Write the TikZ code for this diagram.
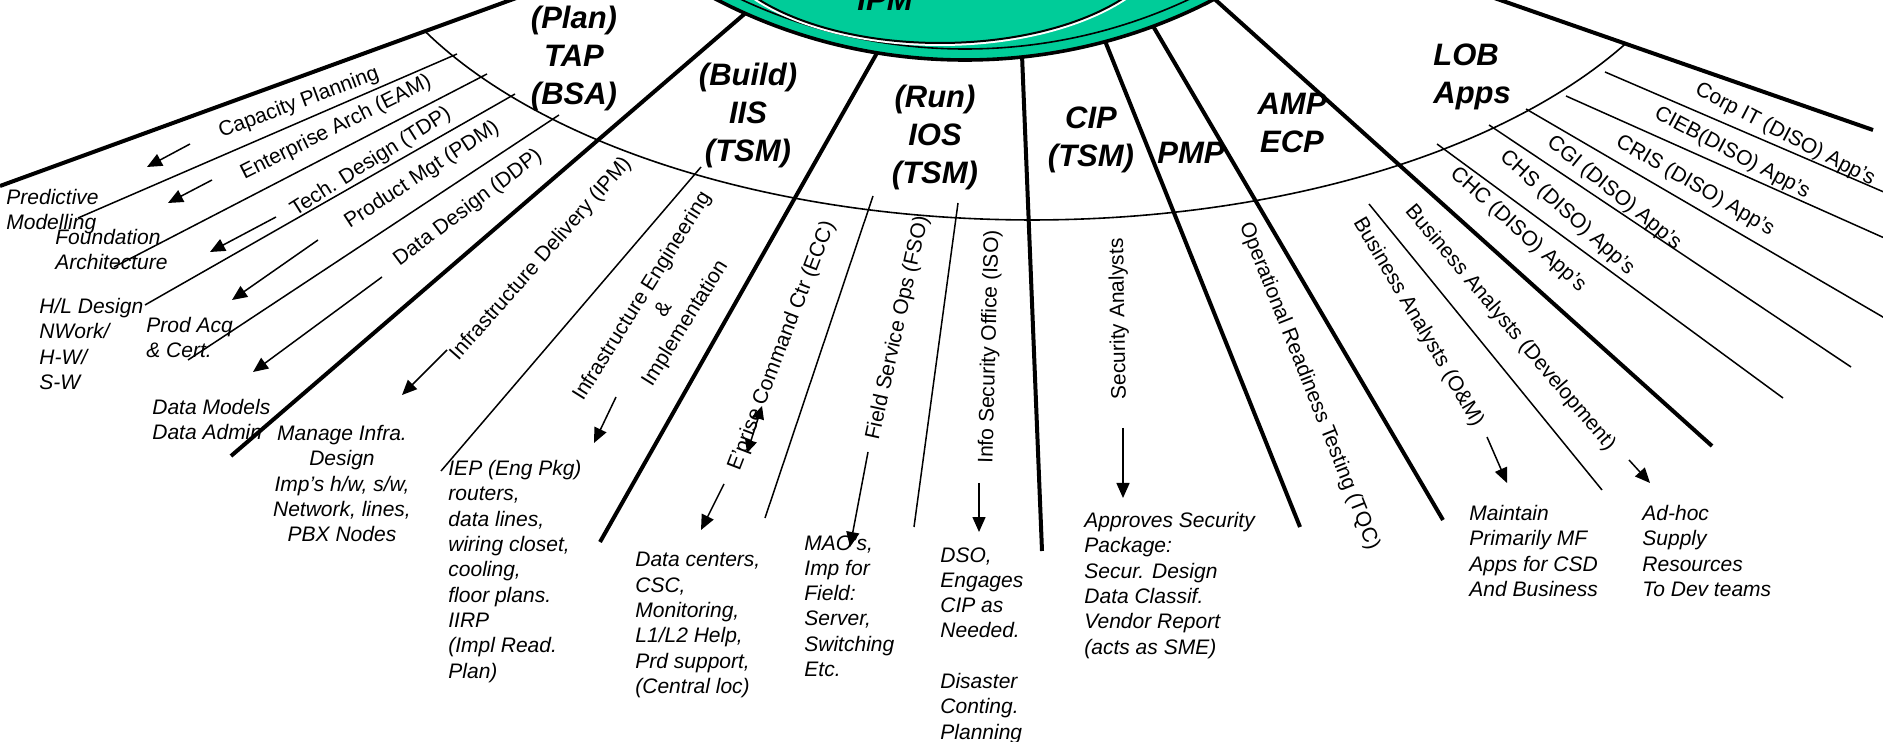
\documentclass[tikz,border=0pt]{standalone}
\usepackage{fontspec}
\setmainfont{Liberation Sans}
\usetikzlibrary{arrows.meta}
\definecolor{hubgreen}{RGB}{0,204,153}
\newcommand\fsmall{\fontsize{10.5pt}{12.65pt}\selectfont}
\newcommand\fbig{\fontsize{15.5pt}{19pt}\selectfont}

\begin{document}
\begin{tikzpicture}[x=0.5pt, y=-0.5pt,
  thickray/.style={line width=2pt},
  thinray/.style={line width=0.75pt},
  arcline/.style={line width=0.8pt},
  arr/.style={line width=0.75pt, -{Triangle[length=7.5pt,width=6.5pt]}},
  dblarr/.style={line width=0.75pt, {Triangle[length=6.5pt,width=6pt]}-{Triangle[length=6.5pt,width=6pt]}},
  raylabel/.style={font=\fsmall, inner sep=0pt},
  body/.style={font=\fsmall\itshape, align=left, anchor=north west, inner sep=0pt},
  head/.style={font=\fbig\bfseries\itshape, align=center, inner sep=0pt},
]
\useasboundingbox (0,0) rectangle (1883,742);
\fill[white] (0,0) rectangle (1883,742);
\clip (0,0) rectangle (1883,742);

% main spokes of the fan
\draw[thickray] (0,186) -- (530,-7);
\draw[thickray] (770,-8) -- (231,456);
\draw[thickray] (890,30) -- (600,542);
\draw[thickray] (1021,30) -- (1042,551);
\draw[thickray] (1099,26) -- (1300,527);
\draw[thickray] (1143,9) -- (1443,520);
\draw[thickray] (1190,-23) -- (1712,446);
\draw[thickray] (1480,-7) -- (1873,130);

% hub ring and centre ellipse
\draw[line width=1.8pt, fill=hubgreen] (965,-480) circle[radius=540];
\draw[line width=0.8pt] (965,-480) circle[radius=529];
\draw[white, line width=3pt] (940,-70) ellipse[x radius=230, y radius=113];
\draw[line width=1pt, fill=hubgreen] (940,-70) ellipse[x radius=230, y radius=113];
\node[head, anchor=base] (ipm) at (885,11) {IPM};

% inner ring separating groups from their functions
\draw[arcline] plot[domain=30:152, samples=120] ({1032+687*cos(\x)},{-135+355*sin(\x)});

% sub-dividers
\draw[thinray] (457,54) -- (78,218);
\draw[thinray] (487,74) -- (114,267);
\draw[thinray] (515,94) -- (145,305);
\draw[thinray] (559,115) -- (188,360);
\draw[thinray] (701,167) -- (441,471);
\draw[thinray] (873,196) -- (765,518);
\draw[thinray] (958,203) -- (914,527);
\draw[thinray] (1369,204) -- (1602,490);
\draw[thinray] (1437,144) -- (1783,398);
\draw[thinray] (1489,125) -- (1851,367);
\draw[thinray] (1526,109) -- (1900,327);
\draw[thinray] (1566,96) -- (1900,245);
\draw[thinray] (1605,72) -- (1900,199);

% group headings
\node[head] (tap) at (574,58) {(Plan)\\TAP\\(BSA)};
\node[head] (iis) at (748,115) {(Build)\\IIS\\(TSM)};
\node[head] (ios) at (935,137) {(Run)\\IOS\\(TSM)};
\node[head] (cip) at (1091,140) {CIP\\(TSM)};
\node[head] (pmp) at (1191,153) {PMP};
\node[head] (amp) at (1292,123) {AMP\\ECP};
\node[head, align=left, anchor=west] (lob) at (1433,77) {LOB\\Apps};

% function names along the spokes
\node[raylabel, rotate=20.6] (cap) at (299,103) {Capacity Planning};
\node[raylabel, rotate=26.6] (eam) at (336,128) {Enterprise Arch (EAM)};
\node[raylabel, rotate=32.3] (tdp) at (371,162) {Tech. Design (TDP)};
\node[raylabel, rotate=33.2] (pdm) at (422,175) {Product Mgt (PDM)};
\node[raylabel, rotate=37] (ddp) at (468,208) {Data Design (DDP)};
\node[raylabel, rotate=48.6] (ipmd) at (541,259) {Infrastructure Delivery (IPM)};
\node[raylabel, rotate=58, align=center] (iei) at (664,310) {Infrastructure Engineering\\\&\\Implementation};
\node[raylabel, rotate=69] (ecc) at (782,346) {E’prise Command Ctr (ECC)};
\node[raylabel, rotate=77.5] (fso) at (898,328) {Field Service Ops (FSO)};
\node[raylabel, rotate=88.5] (iso) at (990,347) {Info Security Office (ISO)};
\node[raylabel, rotate=91] (sec) at (1119,319) {Security Analysts};
\node[raylabel, rotate=-68.4] (tqc) at (1309,386) {Operational Readiness Testing (TQC)};
\node[raylabel, rotate=-59.6] (bao) at (1418,322) {Business Analysts (O\&M)};
\node[raylabel, rotate=-49.8] (bad) at (1510,328) {Business Analysts (Development)};
\node[raylabel, rotate=-42] (chc) at (1518,230) {CHC (DISO) App’s};
\node[raylabel, rotate=-42.3] (chs) at (1567,213) {CHS (DISO) App’s};
\node[raylabel, rotate=-39.2] (cgi) at (1614,193) {CGI (DISO) App’s};
\node[raylabel, rotate=-30.2] (cris) at (1695,186) {CRIS (DISO) App’s};
\node[raylabel, rotate=-28] (cieb) at (1732,153) {CIEB(DISO) App’s};
\node[raylabel, rotate=-27.4] (corp) at (1785,135) {Corp IT (DISO) App’s};

% outputs of each function
\node[body] (pm) at (6,189) {Predictive\\Modelling};
\node[body] (fa) at (55,229) {Foundation\\Architecture};
\node[body] (hl) at (39,298) {H/L Design\\NWork/\\H-W/\\S-W};
\node[body] (pa) at (146,317) {Prod Acq\\\& Cert.};
\node[body] (dm) at (152,399) {Data Models\\Data Admin};
\node[body, align=center, anchor=north] (mi) at (342,425) {Manage Infra.\\Design\\Imp’s h/w, s/w,\\Network, lines,\\PBX Nodes};
\node[body] (iep) at (448,460) {IEP (Eng Pkg)\\routers,\\data lines,\\wiring closet,\\cooling,\\floor plans.\\IIRP\\(Impl Read.\\Plan)};
\node[body] (dc) at (635,552) {Data centers,\\CSC,\\Monitoring,\\L1/L2 Help,\\Prd support,\\(Central loc)};
\node[body] (mao) at (804,535) {MAO’s,\\Imp for\\Field:\\Server,\\Switching\\Etc.};
\node[body] (dso) at (940,547) {DSO,\\Engages\\CIP as\\Needed.\\[12.65pt]Disaster\\Conting.\\Planning};
\node[body] (asp) at (1084,512) {Approves Security\\Package:\\Secur. Design\\Data Classif.\\Vendor Report\\(acts as SME)};
\node[body] (mpm) at (1469,505) {Maintain\\Primarily MF\\Apps for CSD\\And Business};
\node[body] (adh) at (1642,505) {Ad-hoc\\Supply\\Resources\\To Dev teams};

% arrows from functions to outputs
\draw[arr] (190,144) -- (147,167);
\draw[arr] (212,180) -- (168,203);
\draw[arr] (276,217) -- (210,252);
\draw[arr] (318,240) -- (232,300);
\draw[arr] (382,277) -- (253,372);
\draw[arr] (447,350) -- (402,395);
\draw[arr] (616,397) -- (594,443);
\draw[dblarr] (762,406) -- (747,453);
\draw[arr] (724,484) -- (701,530);
\draw[arr] (868,452) -- (850,547);
\draw[arr] (979,483) -- (979,532);
\draw[arr] (1123,428) -- (1123,498);
\draw[arr] (1487,437) -- (1507,483);
\draw[arr] (1629,460) -- (1650,483);
\end{tikzpicture}
\end{document}
